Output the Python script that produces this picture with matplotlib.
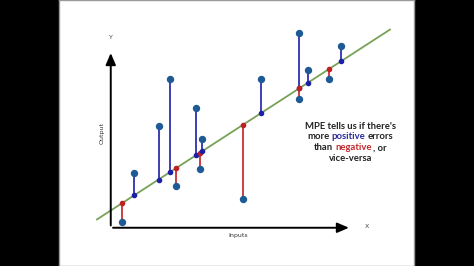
import matplotlib
matplotlib.use("Agg")
import matplotlib.pyplot as plt

# data (arbitrary units, origin at axis corner)
inputs = [0.46, 0.93, 1.91, 2.38, 2.62, 3.41, 3.57, 3.65, 5.30, 6.00, 7.54, 7.54, 7.89, 8.72, 9.22]
outputs = [0.24, 2.20, 4.07, 5.96, 1.66, 4.78, 2.34, 3.55, 1.14, 5.96, 7.80, 5.14, 6.31, 5.95, 7.26]
intercept = 0.69
slope = 0.648
line_x = [-0.55, 11.17]

pos_col = "#1c1fa8"
neg_col = "#c01f24"
pt_col = "#1d5a96"
fit_col = "#78a257"

fig = plt.figure(figsize=(4.74, 2.66), dpi=100, facecolor="black")
ax = fig.add_axes([59 / 474, 0, 355 / 474, 1])
ax.set_facecolor("white")
ax.set_xlim(-2.07, 12.13)
ax.set_ylim(-1.53, 9.11)
ax.set_xticks([])
ax.set_yticks([])
for s in ax.spines.values():
    s.set_color("#9a9a9a")
    s.set_linewidth(1.0)

# axes arrows
ax.annotate("", xy=(0, 7.1), xytext=(0, -0.02),
            arrowprops=dict(arrowstyle="-|>,head_length=0.7,head_width=0.3", color="black", lw=1.4))
ax.annotate("", xy=(9.64, 0), xytext=(-0.02, 0),
            arrowprops=dict(arrowstyle="-|>,head_length=0.7,head_width=0.3", color="black", lw=1.4))
ax.text(0, 7.6, "Y", fontsize=4.5, color="#444444", ha="center", va="center")
ax.text(10.25, 0.03, "X", fontsize=4.5, color="#444444", ha="center", va="center")
ax.text(-0.36, 3.79, "Output", fontsize=4.5, color="#333333", rotation=90, ha="center", va="center")
ax.text(5.1, -0.33, "Inputs", fontsize=4.5, color="#333333", ha="center", va="center")

# fitted line
ax.plot(line_x, [intercept + slope * x for x in line_x], color=fit_col, lw=1.3, zorder=2)

# residuals
for x, y in zip(inputs, outputs):
    yhat = intercept + slope * x
    c = pos_col if y > yhat else neg_col
    ax.plot([x, x], [yhat, y], color=c, lw=1.2, zorder=3)
    ax.plot(x, yhat, "o", color=c, ms=3.0, zorder=4)
    ax.plot(x, y, "o", color=pt_col, ms=4.3, zorder=5)

# annotation text: (word, colour, space before)
dark = "#222222"
lines = [
    [("MPE tells us if there's", dark, False)],
    [("more", dark, False), ("positive", "#2a2a9a", True), ("errors", dark, True)],
    [("than", dark, False), ("negative", "#c0282c", True), (", or", dark, False)],
    [("vice-versa", dark, False)],
]
fs = 6.8
space_px = 2.5
kern_px = 0.3
ys = [4.06, 3.63, 3.19, 2.76]
fig.canvas.draw()
r = fig.canvas.get_renderer()
to_px = ax.transData
inv = ax.transData.inverted()
for parts, y in zip(lines, ys):
    texts = []
    xpx = 0.0
    for s, c, sp in parts:
        if texts:
            xpx = texts[-1].get_window_extent(r).x1 + (space_px if sp else kern_px)
        t = ax.text(inv.transform((xpx, 0))[0], y, s, fontsize=fs, fontweight="bold",
                    family="Lato", color=c, ha="left", va="center")
        texts.append(t)
    left = texts[0].get_window_extent(r).x0
    right = texts[-1].get_window_extent(r).x1
    shift = to_px.transform((9.58, y))[0] - (left + right) / 2
    for t in texts:
        px = to_px.transform((t.get_position()[0], y))[0] + shift
        t.set_x(inv.transform((px, 0))[0])

fig.savefig("out.png", dpi=100, facecolor="black")
